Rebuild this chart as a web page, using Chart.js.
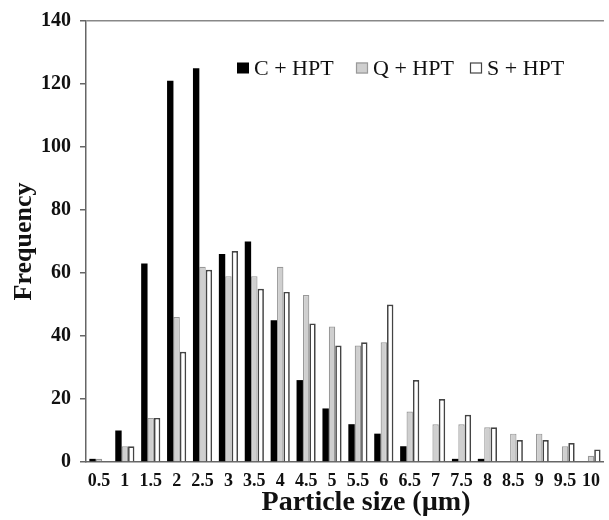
<!DOCTYPE html>
<html>
<head>
<meta charset="utf-8">
<script src="https://cdn.jsdelivr.net/npm/chart.js@4"></script>
<style>
  html, body { margin: 0; padding: 0; background: #fff; }
  #wrap { width: 609px; height: 520px; }
</style>
</head>
<body>
<div id="wrap"><canvas id="chart" width="609" height="520"></canvas></div>
<script>
// particle size classes (µm)
const sizes = ['0.5','1','1.5','2','2.5','3','3.5','4','4.5','5','5.5','6','6.5','7','7.5','8','8.5','9','9.5','10'];
const cHpt = [1, 10, 63, 121, 125, 66, 70, 45, 26, 17, 12, 9, 5, 0, 1, 1, 0, 0, 0, 0];
const qHpt = [1, 5, 14, 46, 62, 59, 59, 62, 53, 43, 37, 38, 16, 12, 12, 11, 9, 9, 5, 2];
const sHpt = [0, 5, 14, 35, 61, 67, 55, 54, 44, 37, 38, 50, 26, 20, 15, 11, 7, 7, 6, 4];
const yTicks = [0, 20, 40, 60, 80, 100, 120, 140];
const xTitle = 'Particle size (µm)';

const serif = '"Liberation Serif", "Times New Roman", serif';

// legend sits inside the plot, top right; x title is a bit right of centre in the original
const extras = {
  id: 'extras',
  afterDraw(chart) {
    const ctx = chart.ctx;
    const items = chart.data.datasets;
    const xs = [237, 356, 470];
    const y = 68;
    ctx.save();
    ctx.font = '22px ' + serif;
    ctx.textBaseline = 'middle';
    items.forEach((ds, i) => {
      ctx.fillStyle = ds.backgroundColor;
      ctx.strokeStyle = ds.borderColor;
      ctx.lineWidth = 1.2;
      ctx.fillRect(xs[i], y - 5.5, 12, 11);
      if (i > 0) ctx.strokeRect(xs[i] + 0.5, y - 5, 11, 10);
      ctx.fillStyle = '#111';
      ctx.fillText(ds.label, xs[i] + 17, y + 1);
    });
    ctx.font = 'bold 28px ' + serif;
    ctx.textAlign = 'center';
    ctx.fillText(xTitle, 366, 503);
    ctx.restore();
  }
};

new Chart(document.getElementById('chart').getContext('2d'), {
  type: 'bar',
  data: {
    labels: sizes,
    datasets: [
      { label: 'C + HPT', data: cHpt, backgroundColor: '#000', borderColor: '#000', borderWidth: 0 },
      { label: 'Q + HPT', data: qHpt, backgroundColor: '#cfcfcf', borderColor: '#999', borderWidth: 1.2 },
      { label: 'S + HPT', data: sHpt, backgroundColor: '#fff', borderColor: '#444', borderWidth: 1.7 }
    ]
  },
  options: {
    responsive: false,
    animation: false,
    layout: { padding: { top: 20, right: -2, left: 0, bottom: 0 } },
    datasets: { bar: { categoryPercentage: 0.74, barPercentage: 1 } },
    plugins: { legend: { display: false }, tooltip: { enabled: false } },
    scales: {
      x: {
        grid: { display: false, drawTicks: false },
        border: { display: true, color: '#666', width: 1.5 },
        ticks: { color: '#111', font: { family: serif, size: 18, weight: 'bold' }, padding: 9, maxRotation: 0, autoSkip: false },
        title: { display: false },
        afterFit(scale) { scale.height = 58; }
      },
      y: {
        min: 0, max: 140,
        afterBuildTicks(scale) { scale.ticks = yTicks.map(v => ({ value: v })); },
        grid: {
          color: c => (c.tick && c.tick.value === 140 ? '#888' : 'transparent'),
          lineWidth: 1.5,
          drawTicks: true,
          tickLength: 6,
          tickColor: '#666'
        },
        border: { display: true, color: '#666', width: 1.5 },
        ticks: { color: '#111', font: { family: serif, size: 20, weight: 'bold' }, padding: 9 },
        title: { display: true, text: 'Frequency', color: '#111', font: { family: serif, size: 26, weight: 'bold' }, padding: { top: 9, bottom: 0 } },
        afterFit(scale) { scale.width = 86; }
      }
    }
  },
  plugins: [extras]
});
</script>
</body>
</html>
